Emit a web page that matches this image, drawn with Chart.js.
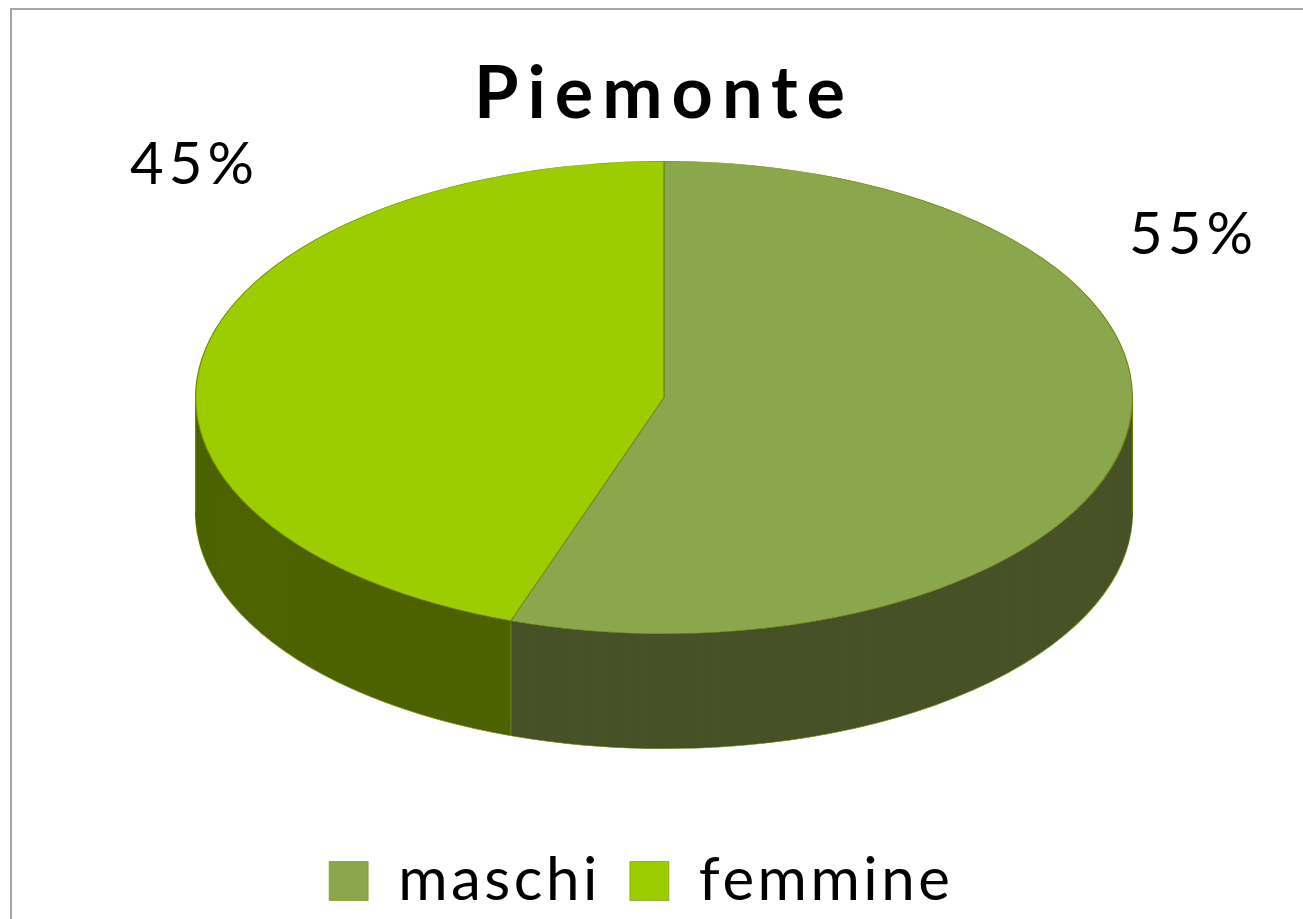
<!DOCTYPE html>
<html lang="en">
<head>
    <meta charset="UTF-8">
    <title>Piemonte</title>
    <script src="https://cdn.jsdelivr.net/npm/chart.js"></script>
    <style>
        html, body { margin: 0; padding: 0; background: #fff; overflow: hidden; }
        #frame { position: absolute; left: 10px; top: 8px; width: 1300px; height: 920px; border: 2px solid #a6a6a6; }
        canvas { position: absolute; left: 0; top: 0; }
    </style>
</head>
<body>
    <div id="frame"></div>
    <canvas id="pie" width="1303" height="919"></canvas>

    <script>
        const categories = ['maschi', 'femmine'];
        // slice sizes, the labels round them to 55% and 45%
        const shares = [55.3, 44.7];
        const topColors = ['#8ba74e', '#9bcd00'];
        const sideColors = ['#475227', '#4d6300'];
        const edgeColor = '#76870f';

        const depth = 115;
        const squash = 468 / 236;   // horizontal stretch of the pie, makes it an ellipse
        const legendDrop = 188;
        const legendSpacing = '3.5px';
        const labelSpots = [[1193.5, 235], [194.5, 165]];

        function place(ctx, arc, dy) {
            ctx.translate(arc.x, arc.y + dy);
            ctx.scale(squash, 1);
            ctx.translate(-arc.x, -arc.y);
        }

        function sideLine(ctx, x, y) {
            ctx.beginPath();
            ctx.moveTo(x, y);
            ctx.lineTo(x, y + depth);
            ctx.stroke();
        }

        const pie3d = {
            id: 'pie3d',
            beforeLayout(chart) {
                chart.ctx.letterSpacing = legendSpacing;
            },
            afterLayout(chart) {
                const title = chart.titleBlock;
                const legend = chart.legend;
                const drawTitle = title.draw;
                title.draw = function () {
                    chart.ctx.letterSpacing = '9px';
                    drawTitle.call(title);
                    chart.ctx.letterSpacing = legendSpacing;
                };
                legend.left -= 22.75;
                legend.right -= 22.75;
                legend.top += legendDrop;
                legend.bottom += legendDrop;
            },
            beforeDatasetDraw(chart, args) {
                const ctx = chart.ctx;
                const arcs = args.meta.data;
                for (let dy = depth; dy > 0; dy--) {
                    arcs.forEach((arc, i) => {
                        const keep = arc.options;
                        arc.options = Object.create(keep, {
                            backgroundColor: { value: sideColors[i] },
                            borderColor: { value: dy === depth ? edgeColor : sideColors[i] },
                            borderWidth: { value: dy === depth ? 0.6 : 0 }
                        });
                        ctx.save();
                        place(ctx, arc, dy);
                        arc.draw(ctx);
                        ctx.restore();
                        arc.options = keep;
                    });
                }
                // upright edges: the front seam between slices and both outer sides
                const first = arcs[0];
                const rx = first.outerRadius * squash;
                ctx.save();
                ctx.strokeStyle = edgeColor;
                ctx.lineWidth = 1;
                sideLine(ctx, first.x + rx * Math.cos(first.endAngle), first.y + first.outerRadius * Math.sin(first.endAngle));
                sideLine(ctx, first.x - rx, first.y);
                sideLine(ctx, first.x + rx, first.y);
                ctx.restore();
                ctx.save();
                place(ctx, first, 0);
            },
            afterDatasetDraw(chart, args) {
                const ctx = chart.ctx;
                ctx.restore();
                ctx.save();
                ctx.font = '58px Lato';
                ctx.letterSpacing = '5px';
                ctx.fillStyle = '#000';
                ctx.textAlign = 'center';
                ctx.textBaseline = 'middle';
                args.meta.data.forEach((arc, i) => {
                    ctx.fillText(Math.round(shares[i]) + '%', labelSpots[i][0], labelSpots[i][1]);
                });
                ctx.restore();
            }
        };

        const ctx = document.getElementById('pie').getContext('2d');
        new Chart(ctx, {
            type: 'pie',
            data: {
                labels: categories,
                datasets: [{
                    data: shares,
                    backgroundColor: topColors,
                    borderColor: edgeColor,
                    borderWidth: 0.6,
                    clip: false
                }]
            },
            options: {
                responsive: false,
                animation: false,
                layout: { padding: { left: 196, right: 171, top: 0, bottom: 186 } },
                plugins: {
                    tooltip: { enabled: false },
                    title: {
                        display: true,
                        text: 'Piemonte',
                        color: '#000',
                        font: { family: 'Lato', size: 72, weight: 'bold' },
                        padding: { top: 52, bottom: 22.6 }
                    },
                    legend: {
                        position: 'bottom',
                        onClick: null,
                        labels: {
                            color: '#000',
                            boxWidth: 39,
                            boxHeight: 39,
                            padding: 29,
                            font: { family: 'Lato', size: 60 }
                        }
                    }
                }
            },
            plugins: [pie3d]
        });
    </script>
</body>
</html>
